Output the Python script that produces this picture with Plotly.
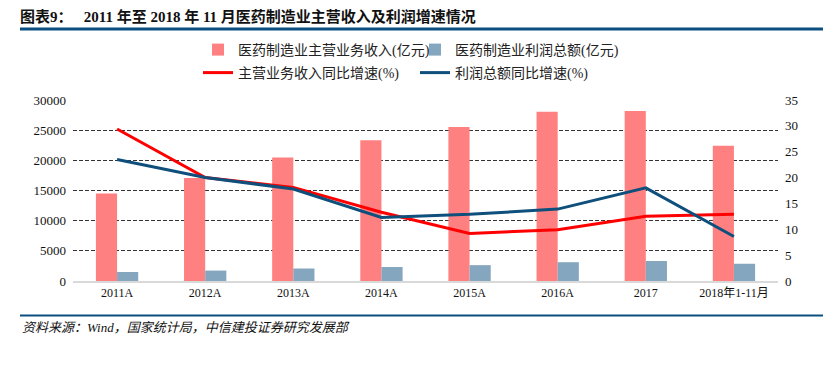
import plotly.graph_objects as go

categories = ["2011A", "2012A", "2013A", "2014A", "2015A", "2016A", "2017", "2018年1-11月"]
revenue = [14522, 17083, 20484, 23325, 25537, 28062, 28185, 22400]
profit = [1494, 1731, 2071, 2322, 2627, 3114, 3314, 2858]
revenue_growth = [29.4, 20.0, 18.1, 13.3, 9.2, 9.9, 12.5, 12.9]
profit_growth = [23.5, 20.0, 17.8, 12.3, 12.9, 13.9, 18.0, 8.6]

W, H = 838, 376
OFF = 8  # page body margin offset
# desired on-screen plot box: x 73..778, y 100..281
L, T = 73 - OFF, 100 - OFF
R, B = W - (778 - OFF), H - (281 - OFF)
PW, PH = W - L - R, H - T - B

def px(x):  # screen x -> paper
    return (x - OFF - L) / PW

def py(y):  # screen y -> paper
    return (H - B - (y - OFF)) / PH

SERIF = "Liberation Serif, Noto Sans CJK SC, serif"
DARK = "#0B4F80"

fig = go.Figure()
fig.add_trace(go.Bar(x=categories, y=revenue, name="医药制造业主营业务收入(亿元)",
                     marker=dict(color="#FF8080", line=dict(width=0)), legend="legend"))
fig.add_trace(go.Bar(x=categories, y=profit, name="医药制造业利润总额(亿元)",
                     marker=dict(color="#84A6BF", line=dict(width=0)), legend="legend"))
fig.add_trace(go.Scatter(x=categories, y=revenue_growth, name="主营业务收入同比增速(%)",
                         mode="lines", line=dict(color="#FF0000", width=3), yaxis="y2",
                         legend="legend2"))
fig.add_trace(go.Scatter(x=categories, y=profit_growth, name="利润总额同比增速(%)",
                         mode="lines", line=dict(color="#0E4F7C", width=3), yaxis="y2",
                         legend="legend2"))

legend_common = dict(orientation="h", xref="paper", yref="paper",
                     xanchor="left", yanchor="middle", entrywidth=172, entrywidthmode="pixels",
                     font=dict(family=SERIF, size=14, color="#222"), bgcolor="rgba(0,0,0,0)",
                     itemwidth=30, tracegroupgap=0)

fig.update_layout(
    width=W, height=H,
    margin=dict(l=L, r=R, t=T, b=B),
    paper_bgcolor="white", plot_bgcolor="white",
    barmode="group", bargap=0.52, bargroupgap=0,
    title=dict(text="<b>图表9：   2011 年至 2018 年 11 月医药制造业主营收入及利润增速情况</b>",
               xref="container", yref="container", x=(20 - OFF) / W, y=1 - 3 / H,
               xanchor="left", yanchor="top", pad=dict(t=0, b=0, l=0, r=0),
               font=dict(family=SERIF, size=15, color="#111")),
    legend=dict(x=px(198), y=py(50), **legend_common),
    legend2=dict(x=px(198), y=py(73), **legend_common),
    xaxis=dict(showgrid=False, showline=True, linecolor="#D9D9D9", linewidth=1.5,
               ticks="", automargin=False, tickfont=dict(family=SERIF, size=12, color="#111")),
    yaxis=dict(range=[0, 30000], dtick=5000, tickformat="d", showgrid=True, gridcolor="#333",
               griddash="4px,2px", gridwidth=1, zeroline=False, showline=False, automargin=False,
               tickfont=dict(family=SERIF, size=13, color="#111"), ticklabelstandoff=6),
    yaxis2=dict(range=[0, 35], dtick=5, overlaying="y", side="right", showgrid=False,
                zeroline=False, showline=False, automargin=False,
                tickfont=dict(family=SERIF, size=13, color="#111"), ticklabelstandoff=6),
    shapes=[
        dict(type="line", xref="paper", yref="paper", x0=px(20), x1=px(823), y0=py(29), y1=py(29),
             line=dict(color=DARK, width=3)),
        dict(type="line", xref="paper", yref="paper", x0=px(20), x1=px(823), y0=py(315.5), y1=py(315.5),
             line=dict(color=DARK, width=2)),
    ],
    annotations=[
        dict(text="<i>资料来源：Wind，国家统计局，中信建投证券研究发展部</i>", xref="paper", yref="paper",
             x=px(20), y=py(327), xanchor="left", yanchor="middle", showarrow=False,
             font=dict(family=SERIF, size=13, color="#111")),
    ],
)

fig.write_html("out.html")
